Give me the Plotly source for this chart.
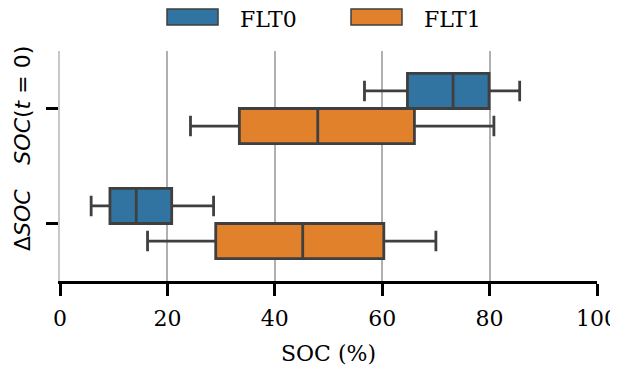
import plotly.graph_objects as go

categories = ["SOC(t=0)", "ΔSOC"]
category_labels = ["<i>SOC</i>(<i>t</i> = 0)", "Δ<i>SOC</i>"]
series_names = ["FLT0", "FLT1"]
series_colors = ["#3274a1", "#e1812c"]

# per series: values for [SOC(t=0), ΔSOC]
lowerfence = {"FLT0": [56.7, 5.8], "FLT1": [24.3, 16.3]}
q1 = {"FLT0": [64.7, 9.3], "FLT1": [33.4, 29.0]}
median = {"FLT0": [73.2, 14.2], "FLT1": [48.0, 45.2]}
q3 = {"FLT0": [79.9, 20.8], "FLT1": [66.0, 60.3]}
upperfence = {"FLT0": [85.6, 28.6], "FLT1": [80.8, 70.0]}

x_ticks = [0, 20, 40, 60, 80, 100]

fig = go.Figure()
for name, color in zip(series_names, series_colors):
    fig.add_trace(go.Box(
        name=name,
        y=categories,
        q1=q1[name], median=median[name], q3=q3[name],
        lowerfence=lowerfence[name], upperfence=upperfence[name],
        orientation="h",
        fillcolor=color,
        line=dict(color="#3f3f3f", width=2.8),
        whiskerwidth=0.58,
        boxpoints=False,
        showlegend=False,
    ))

# page has an 8px body margin: figure coords = page coords - 8
OFF = 8
W, H = 618 - OFF, 368 - OFF
ml, mr, mt, mb = 60 - OFF, 21, 51 - OFF, 87
pw, ph = W - ml - mr, H - mt - mb
def px(x):
    return (x - OFF - ml) / pw
def py(y):
    return (H - mb - (y - OFF)) / ph

patch_x = [167, 351]
for i, (name, color) in enumerate(zip(series_names, series_colors)):
    x0 = patch_x[i]
    fig.add_shape(type="rect", xref="paper", yref="paper",
                  x0=px(x0), x1=px(x0 + 51), y0=py(25), y1=py(9),
                  fillcolor=color, line=dict(color="#3f3f3f", width=1.5))
    fig.add_annotation(xref="paper", yref="paper", x=px(x0 + 71), y=py(19.5),
                       text=name, showarrow=False, xanchor="left", yanchor="middle",
                       font=dict(family="DejaVu Serif", size=22, color="black"))

serif = dict(family="DejaVu Serif", size=22, color="black")
sans = dict(family="DejaVu Sans", size=22, color="black")

fig.update_layout(
    width=W, height=H,
    margin=dict(l=ml, r=mr, t=mt, b=mb, autoexpand=False),
    paper_bgcolor="white", plot_bgcolor="white",
    boxmode="group", boxgap=0.39, boxgroupgap=0.0,
    showlegend=False,
    font=serif,
    xaxis=dict(
        range=[0, 100], tickmode="array", tickvals=x_ticks,
        ticktext=[str(v) for v in x_ticks],
        showgrid=True, gridcolor="#b0b0b0", gridwidth=1.5, zeroline=False,
        showline=True, linecolor="black", linewidth=2.5,
        ticks="outside", ticklen=12, tickwidth=2.5, tickcolor="black",
        tickfont=serif, automargin=False, ticklabelstandoff=4,
        title=dict(text="SOC (%)", standoff=16, font=serif),
    ),
    yaxis=dict(
        type="category", categoryorder="array", categoryarray=categories,
        range=[1.5, -0.5], autorange=False,
        tickmode="array", tickvals=categories, ticktext=category_labels,
        tickangle=-90,
        showgrid=False, zeroline=False,
        showline=True, linecolor="#c8c8c8", linewidth=1.5,
        ticks="outside", ticklen=12, tickwidth=2.5, tickcolor="black",
        tickfont=sans, automargin=False, ticklabelstandoff=7,
    ),
)

fig.write_html("out.html")
